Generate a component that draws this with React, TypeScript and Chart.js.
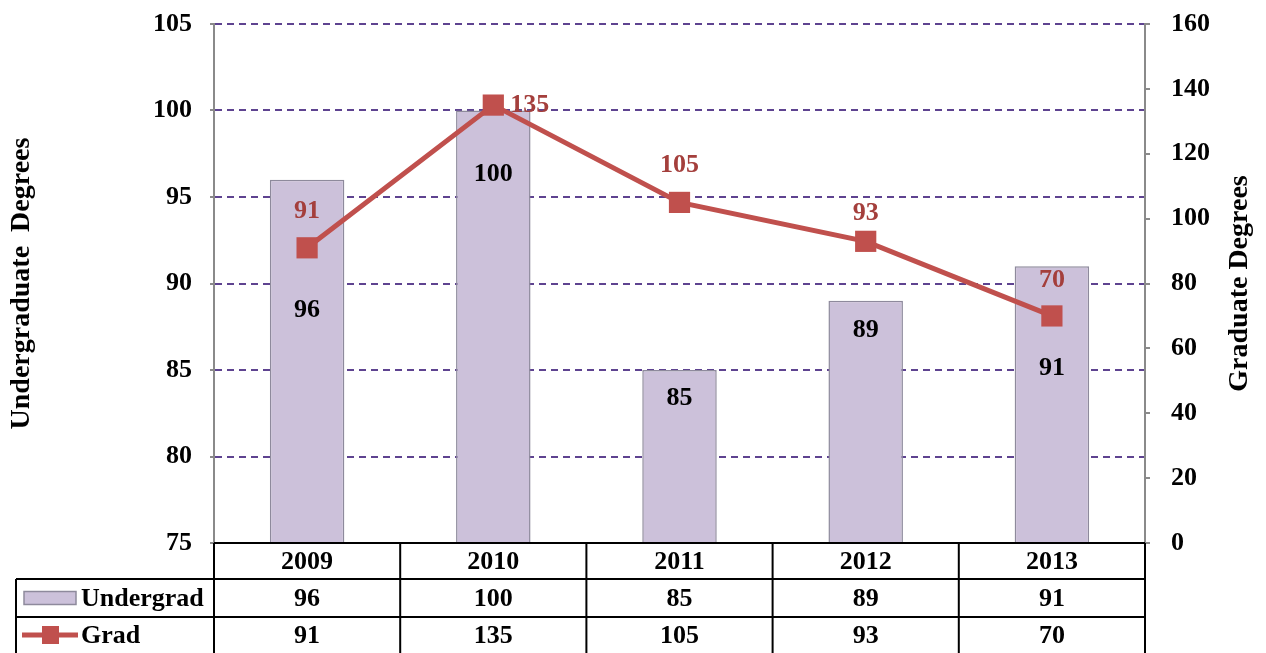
import React, { useEffect, useRef } from "react";
import { Chart, registerables } from "chart.js";

Chart.register(...registerables);

// ---- data ----
const categories = ["2009", "2010", "2011", "2012", "2013"];
const undergrad = [96, 100, 85, 89, 91];
const grad = [91, 135, 105, 93, 70];
const leftAxis = [75, 105, 5]; // min, max, step
const rightAxis = [0, 160, 20];
const seriesNames = ["Undergrad", "Grad"];
const axisTitles = ["Undergraduate  Degrees", "Graduate Degrees"];

// ---- style ----
const BAR_FILL = "#CCC1DA";
const BAR_BORDER = "#8E8A9C";
const LINE_COLOR = "#C0504D";
const GRAD_LABEL = "#A43F3C";
const GRID_COLOR = "#5E4390";
const AXIS_COLOR = "#8A8A8A";
const FAMILY = "'Liberation Serif', 'Times New Roman', serif";
const FONT = `bold 26px ${FAMILY}`;
const TITLE_FONT = `bold 28px ${FAMILY}`;
const barLabelDrop = [131, 64, 28, 29, 102];
const gradLabelPlace = ["above", "right", "above", "above", "above"];
const gradLabelRise = [37, 0, 37, 28, 36];

const overlay = {
  id: "overlay",
  afterDatasetsDraw(chart: any) {
    const ctx = chart.ctx;
    const x = chart.scales.x;
    const y = chart.scales.y;
    const y1 = chart.scales.y1;
    ctx.save();
    ctx.font = FONT;
    ctx.textBaseline = "middle";
    ctx.textAlign = "center";
    ctx.fillStyle = "#000";
    undergrad.forEach((v, i) => {
      ctx.fillText(String(v), x.getPixelForValue(i), y.getPixelForValue(v) + barLabelDrop[i]);
    });
    ctx.fillStyle = GRAD_LABEL;
    grad.forEach((v, i) => {
      const px = x.getPixelForValue(i);
      const py = y1.getPixelForValue(v);
      if (gradLabelPlace[i] === "right") {
        ctx.textAlign = "left";
        ctx.fillText(String(v), px + 17, py);
        ctx.textAlign = "center";
      } else {
        ctx.fillText(String(v), px, py - gradLabelRise[i]);
      }
    });
    ctx.restore();
  },
  afterDraw(chart: any) {
    const ctx = chart.ctx;
    const area = chart.chartArea;
    const x = chart.scales.x;
    const H = chart.height;
    const n = categories.length;
    const band = (area.right - area.left) / n;
    const r0 = area.bottom;
    const r1 = r0 + 36;
    const r2 = r0 + 74;
    const tableLeft = 16;
    ctx.save();
    ctx.fillStyle = "#fff";
    ctx.fillRect(area.left, r0, area.right - area.left, H - r0);
    ctx.strokeStyle = "#000";
    ctx.lineWidth = 2;
    ctx.beginPath();
    ctx.moveTo(area.left, r0);
    ctx.lineTo(area.right, r0);
    ctx.moveTo(tableLeft, r1);
    ctx.lineTo(area.right, r1);
    ctx.moveTo(tableLeft, r2);
    ctx.lineTo(area.right, r2);
    ctx.moveTo(tableLeft, r1);
    ctx.lineTo(tableLeft, H);
    for (let k = 0; k <= n; k++) {
      const xx = area.left + k * band;
      ctx.moveTo(xx, r0);
      ctx.lineTo(xx, H);
    }
    ctx.stroke();

    ctx.font = FONT;
    ctx.fillStyle = "#000";
    ctx.textAlign = "center";
    ctx.textBaseline = "middle";
    categories.forEach((c, i) => {
      const cx = x.getPixelForValue(i);
      ctx.fillText(c, cx, (r0 + r1) / 2 + 1);
      ctx.fillText(String(undergrad[i]), cx, (r1 + r2) / 2 + 1);
      ctx.fillText(String(grad[i]), cx, (r2 + H) / 2 + 1);
    });

    const yU = (r1 + r2) / 2;
    const yG = (r2 + H) / 2;
    ctx.fillStyle = BAR_FILL;
    ctx.fillRect(24, yU - 6.5, 52, 13);
    ctx.strokeStyle = BAR_BORDER;
    ctx.lineWidth = 1.5;
    ctx.strokeRect(24, yU - 6.5, 52, 13);
    ctx.strokeStyle = LINE_COLOR;
    ctx.lineWidth = 5;
    ctx.beginPath();
    ctx.moveTo(22, yG);
    ctx.lineTo(78, yG);
    ctx.stroke();
    ctx.fillStyle = LINE_COLOR;
    ctx.fillRect(42, yG - 9, 17, 18);
    ctx.fillStyle = "#000";
    ctx.textAlign = "left";
    ctx.fillText(seriesNames[0], 81, yU + 1);
    ctx.fillText(seriesNames[1], 81, yG + 1);

    const mid = (area.top + area.bottom) / 2;
    ctx.font = TITLE_FONT;
    ctx.textAlign = "center";
    ctx.save();
    ctx.translate(22, mid);
    ctx.rotate(-Math.PI / 2);
    ctx.fillText(axisTitles[0], 0, 0);
    ctx.restore();
    ctx.save();
    ctx.translate(1240, mid);
    ctx.rotate(-Math.PI / 2);
    ctx.fillText(axisTitles[1], 0, 0);
    ctx.restore();
    ctx.restore();
  },
};

export default function App() {
  const ref = useRef<HTMLCanvasElement>(null);
  useEffect(() => {
    document.body.style.margin = "0";
    const canvas = ref.current;
    if (!canvas) return;
    const tickFont = { family: FAMILY, size: 26, weight: "bold" as const };
    const noPad = (w: number) => (s: any) => {
      s.width = w;
      s.paddingTop = 0;
      s.paddingBottom = 0;
    };
    const chart = new Chart(canvas, {
      type: "bar",
      data: {
        labels: categories,
        datasets: [
          {
            type: "line",
            label: seriesNames[1],
            data: grad,
            yAxisID: "y1",
            borderColor: LINE_COLOR,
            backgroundColor: LINE_COLOR,
            borderWidth: 5,
            pointStyle: "rect",
            pointRadius: 15,
            pointHoverRadius: 15,
            pointBackgroundColor: LINE_COLOR,
            pointBorderColor: LINE_COLOR,
            pointBorderWidth: 0,
            order: 0,
          } as any,
          {
            type: "bar",
            label: seriesNames[0],
            data: undergrad,
            yAxisID: "y",
            backgroundColor: BAR_FILL,
            borderColor: BAR_BORDER,
            borderWidth: 1.5,
            barPercentage: 0.4,
            categoryPercentage: 1,
            order: 1,
          } as any,
        ],
      },
      options: {
        responsive: false,
        animation: false,
        layout: { padding: { top: 24, bottom: 110, left: 0, right: 0 } },
        plugins: { legend: { display: false }, tooltip: { enabled: false } },
        scales: {
          x: { display: false, offset: true },
          y: {
            position: "left",
            min: leftAxis[0],
            max: leftAxis[1],
            ticks: { stepSize: leftAxis[2], color: "#000", font: tickFont, padding: 18 },
            grid: {
              color: GRID_COLOR,
              lineWidth: 2,
              tickColor: AXIS_COLOR,
              tickLength: 4,
              tickWidth: 2,
            },
            border: { display: true, color: AXIS_COLOR, width: 2, dash: [7, 5] },
            afterFit: noPad(214),
          },
          y1: {
            position: "right",
            min: rightAxis[0],
            max: rightAxis[1],
            ticks: { stepSize: rightAxis[2], color: "#000", font: tickFont, padding: 21 },
            grid: {
              drawOnChartArea: false,
              color: AXIS_COLOR,
              tickColor: AXIS_COLOR,
              tickLength: 5,
              lineWidth: 2,
            },
            border: { display: true, color: AXIS_COLOR, width: 2 },
            afterFit: noPad(121),
          },
        },
      } as any,
      plugins: [overlay],
    });
    return () => chart.destroy();
  }, []);
  return (
    <div style={{ width: 1266, height: 653 }}>
      <canvas ref={ref} width={1266} height={653} style={{ display: "block" }} />
    </div>
  );
}
